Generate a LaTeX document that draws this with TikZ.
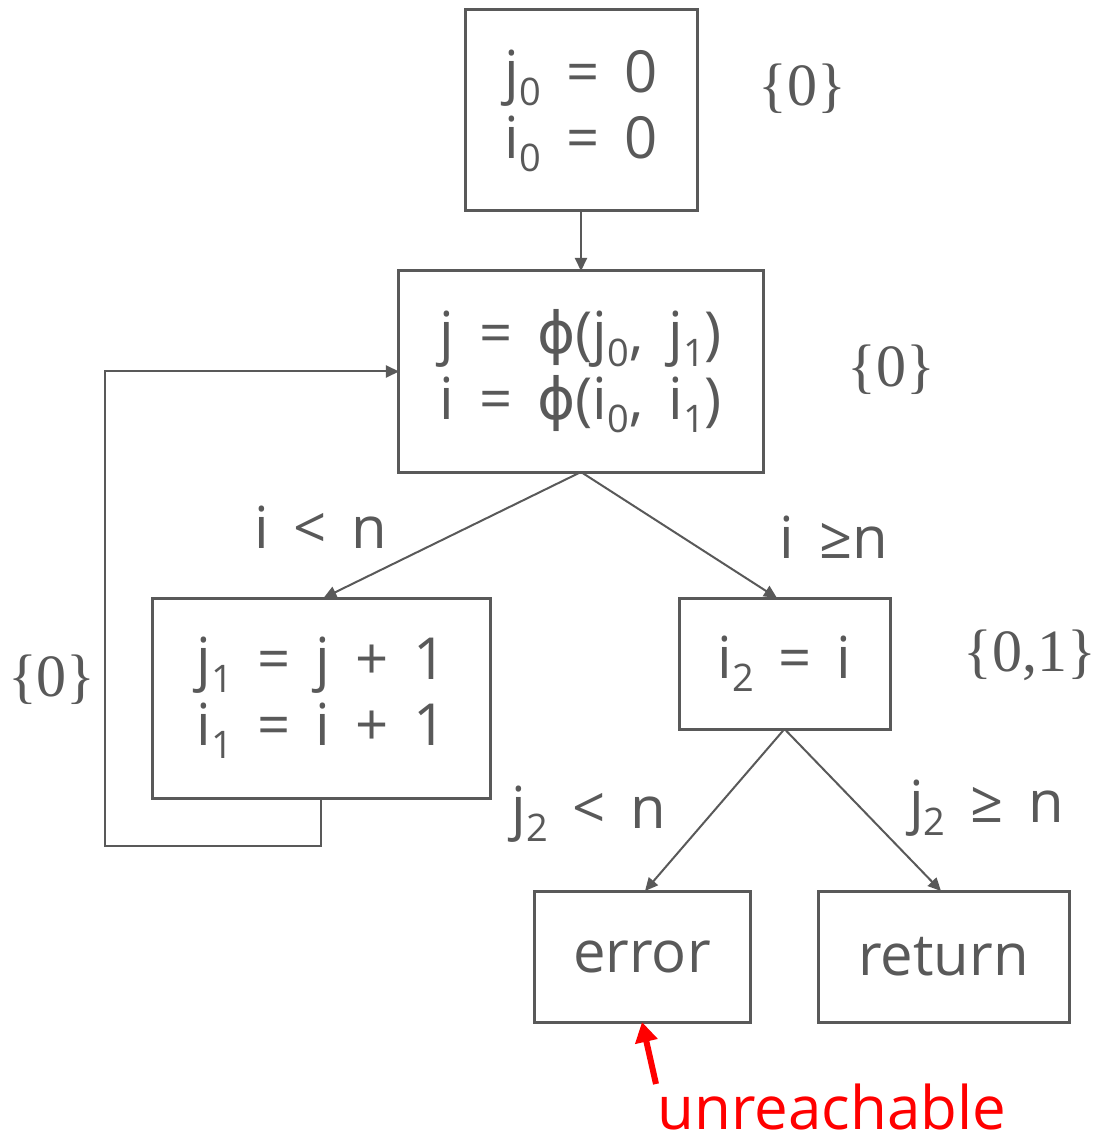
\documentclass[tikz,border=0pt]{standalone}
\usepackage{fontspec}
\setmainfont{Open Sans}[WordSpace=1.65]
\newfontfamily\setfont{Liberation Serif}
\newfontfamily\phifont{DejaVu Sans}
\usepackage{tikz}
\usetikzlibrary{arrows.meta, positioning}
\definecolor{cfg-gray}{HTML}{595959}
\definecolor{cfg-red}{HTML}{FF0000}
\newcommand{\low}[1]{\raisebox{-13pt}{\fontsize{38}{38}\selectfont #1}}
\newcommand{\fphi}{{\phifont ϕ}}

\begin{document}
\begin{tikzpicture}[
    node distance=60pt and 68pt,
    cfgnode/.style={draw=cfg-gray, line width=3pt, text=cfg-gray, inner sep=0pt, outer sep=0pt, align=center, font=\fontsize{58}{66}\selectfont},
    link/.style={-{Triangle[length=13pt,width=12pt]}, line width=2pt, draw=cfg-gray},
    warnlink/.style={-{Triangle[length=20pt,width=22pt]}, line width=6pt, draw=cfg-red},
    setnote/.style={text=cfg-gray, inner sep=0pt, font=\setfont\fontsize{60}{60}\selectfont},
    note/.style={text=cfg-gray, inner sep=0pt, font=\fontsize{58}{58}\selectfont}
]
    \useasboundingbox (-581pt,110.5pt) rectangle (515pt,-1028.5pt);

    % --- Blocks ---
    \node (init) [cfgnode, minimum width=232pt, minimum height=201pt] {j\low{0} = 0\\i\low{0} = 0};
    \node (phi) [cfgnode, below=of init, minimum width=364pt, minimum height=201pt] {j = \fphi(j\low{0}, j\low{1})\\i = \fphi(i\low{0}, i\low{1})};
    \node (body) [cfgnode, below=126pt of phi, xshift=-259.5pt, minimum width=337pt, minimum height=200pt] {j\low{1} = j + 1\\i\low{1} = i + 1};
    \node (cond) [cfgnode, below=126pt of phi, xshift=203.5pt, minimum width=211pt, minimum height=131pt] {i\low{2} = i};
    \node (error) [cfgnode, below=162pt of cond, xshift=-142.5pt, minimum width=216pt, minimum height=131pt] {error};
    \node (ret) [cfgnode, right=of error, minimum width=251pt, minimum height=131pt] {return};

    % --- Value sets ---
    \node (set_init) [setnote] at ([xshift=105pt,yshift=22pt]init.east) {\{0\}};
    \node (set_phi) [setnote] at ([xshift=128pt,yshift=1.5pt]phi.east) {\{0\}};
    \node (set_loop) [setnote] at ([xshift=-101pt,yshift=18pt]body.west) {\{0\}};
    \node (set_cond) [setnote] at ([xshift=140pt,yshift=8pt]cond.east) {\{0,1\}};

    % --- Branch labels ---
    \node (lbl_lt) [note] at ([xshift=-260pt,yshift=-55pt]phi.south) {i < n};
    \node (lbl_ge) [note] at ([xshift=253pt,yshift=-65pt]phi.south) {i ≥n};
    \node (lbl_jlt) [note] at ([xshift=-195.5pt,yshift=-85pt]cond.south) {j\low{2} < n};
    \node (lbl_jge) [note] at ([xshift=202pt,yshift=-79pt]cond.south) {j\low{2} ≥ n};
    \node (note_unreach) [note, text=cfg-red, font=\fontsize{60}{60}\selectfont] at ([xshift=190pt,yshift=-85pt]error.south) {unreachable};
    \coordinate (unreach_tail) at ([xshift=14pt,yshift=-62pt]error.south);

    % --- Connections ---
    \draw [link] (init) -- (phi);
    \draw [link] (phi.south) -- ([xshift=2pt]body.north);
    \draw [link] (phi.south) -- ([xshift=-7.5pt]cond.north);
    \draw [link] (cond.south) -- ([xshift=3pt]error.north);
    \draw [link] (cond.south) -- ([xshift=-2.5pt]ret.north);
    \draw [link] (body.south) -- ++(0,-48pt) -| ([xshift=-294pt]phi.west) -- (phi.west);
    \draw [warnlink] (unreach_tail) -- (error.south);

\end{tikzpicture}
\end{document}
